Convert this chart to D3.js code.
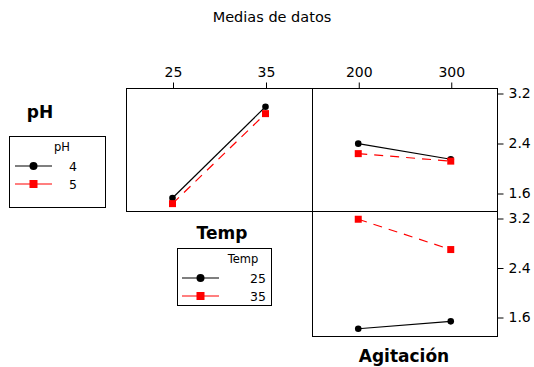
<!DOCTYPE html>
<html>
<head>
<meta charset="utf-8">
<script src="https://cdn.jsdelivr.net/npm/d3@7"></script>
<style>
  body { margin:0; background:#fff; }
  text { font-family: "DejaVu Sans", Verdana, sans-serif; fill:#000; }
</style>
</head>
<body>
<div id="chart"></div>
<script>
// niveles de los factores
const tempLevels = [25, 35]
const agitLevels = [200, 300]
const phLevels = [4, 5]
const yTicks = [1.6, 2.4, 3.2]

// medias: pH x Temp
const phTemp4 = [1.52, 2.98]
const phTemp5 = [1.43, 2.87]
// medias: pH x Agitacion
const phAgit4 = [2.39, 2.14]
const phAgit5 = [2.23, 2.11]
// medias: Temp x Agitacion
const tempAgit25 = [1.41, 1.53]
const tempAgit35 = [3.18, 2.69]

const W = 534, H = 367
const svg = d3.select('#chart').append('svg').attr('width', W).attr('height', H)

// paneles
const colX = [[126, 312], [312, 497]]
const rowY = [[88, 211], [211, 336]]

const xTemp = d3.scaleLinear().domain([20, 40]).range(colX[0])
const xAgit = d3.scaleLinear().domain([150, 350]).range(colX[1])
const yTop = d3.scaleLinear().domain([1.6, 3.2]).range([193, 93])
const yBot = d3.scaleLinear().domain([1.6, 3.2]).range([317, 218])

const styles = [
  {color:'#000', dash:null, shape:'circle'},
  {color:'#f00', dash:'9,7', shape:'square'}
]

// titulo
svg.append('text').attr('x', 272).attr('y', 22).attr('text-anchor', 'middle')
  .style('font-size', '14.5px').text('Medias de datos')

// marcos
const frames = [[0,0],[1,0],[1,1]]
frames.forEach(([c, r]) => {
  svg.append('rect')
    .attr('x', colX[c][0] + 0.5).attr('y', rowY[r][0] + 0.5)
    .attr('width', colX[c][1] - colX[c][0]).attr('height', rowY[r][1] - rowY[r][0])
    .attr('fill', 'none').attr('stroke', '#000').attr('stroke-width', 1)
})

// ejes superiores
const topAxes = [[xTemp, tempLevels], [xAgit, agitLevels]]
topAxes.forEach(([sc, lv]) => {
  const g = svg.append('g').attr('transform', 'translate(0.5,' + (rowY[0][0] + 0.5) + ')')
    .call(d3.axisTop(sc).tickValues(lv).tickSize(6).tickSizeOuter(0).tickPadding(6))
  g.select('.domain').remove()
  g.selectAll('text').style('font-size', '14px').style('font-family', '"DejaVu Sans", Verdana, sans-serif')
})

// ejes derechos
;[yTop, yBot].forEach(sc => {
  const g = svg.append('g').attr('transform', 'translate(' + (colX[1][1] + 0.5) + ',0.5)')
    .call(d3.axisRight(sc).tickValues(yTicks).tickFormat(d3.format('.1f')).tickSize(6).tickSizeOuter(0).tickPadding(5))
  g.select('.domain').remove()
  g.selectAll('text').style('font-size', '14px').style('font-family', '"DejaVu Sans", Verdana, sans-serif')
})

// series
function drawSeries(xs, levels, vals, ys, st) {
  const pts = levels.map((l, i) => [xs(l), ys(vals[i])])
  svg.append('path').attr('d', d3.line()(pts)).attr('fill', 'none')
    .attr('stroke', st.color).attr('stroke-width', 1.2)
    .attr('stroke-dasharray', st.dash)
  pts.forEach(p => {
    if (st.shape === 'circle') {
      svg.append('circle').attr('cx', p[0]).attr('cy', p[1]).attr('r', 3.3).attr('fill', st.color)
    } else {
      svg.append('rect').attr('x', p[0] - 3.5).attr('y', p[1] - 3.5).attr('width', 7).attr('height', 7).attr('fill', st.color)
    }
  })
}
drawSeries(xTemp, tempLevels, phTemp4, yTop, styles[0])
drawSeries(xTemp, tempLevels, phTemp5, yTop, styles[1])
drawSeries(xAgit, agitLevels, phAgit4, yTop, styles[0])
drawSeries(xAgit, agitLevels, phAgit5, yTop, styles[1])
drawSeries(xAgit, agitLevels, tempAgit25, yBot, styles[0])
drawSeries(xAgit, agitLevels, tempAgit35, yBot, styles[1])

// etiquetas de factores
const bold = (x, y, t) => svg.append('text').attr('x', x).attr('y', y).attr('text-anchor', 'middle')
  .style('font-size', '17px').style('font-weight', 'bold').text(t)
bold(40, 118, 'pH')
bold(222, 239, 'Temp')
bold(404, 362, 'Agitación')

// leyendas
function legend(x, y, w, h, title, titleX, labels, labelX, lineX0, lineX1) {
  svg.append('rect').attr('x', x + 0.5).attr('y', y + 0.5).attr('width', w).attr('height', h)
    .attr('fill', 'none').attr('stroke', '#000')
  svg.append('text').attr('x', titleX).attr('y', y + 15).attr('text-anchor', 'middle')
    .style('font-size', '11.5px').text(title)
  labels.forEach((lb, i) => {
    const st = styles[i]
    const cy = y + 30 + i * 18
    svg.append('line').attr('x1', lineX0).attr('x2', lineX1).attr('y1', cy).attr('y2', cy)
      .attr('stroke', st.color).attr('stroke-width', 1.2)
    const mx = (lineX0 + lineX1) / 2
    if (st.shape === 'circle') svg.append('circle').attr('cx', mx).attr('cy', cy).attr('r', 4).attr('fill', st.color)
    else svg.append('rect').attr('x', mx - 4).attr('y', cy - 4).attr('width', 8).attr('height', 8).attr('fill', st.color)
    svg.append('text').attr('x', labelX).attr('y', cy + 5).attr('text-anchor', 'end')
      .style('font-size', '12.5px').text(lb)
  })
}
legend(9, 136, 96, 71, 'pH', 62, phLevels, 77, 15, 52)
legend(177, 248, 94, 57, 'Temp', 243, tempLevels, 266, 182, 219)
</script>
</body>
</html>
